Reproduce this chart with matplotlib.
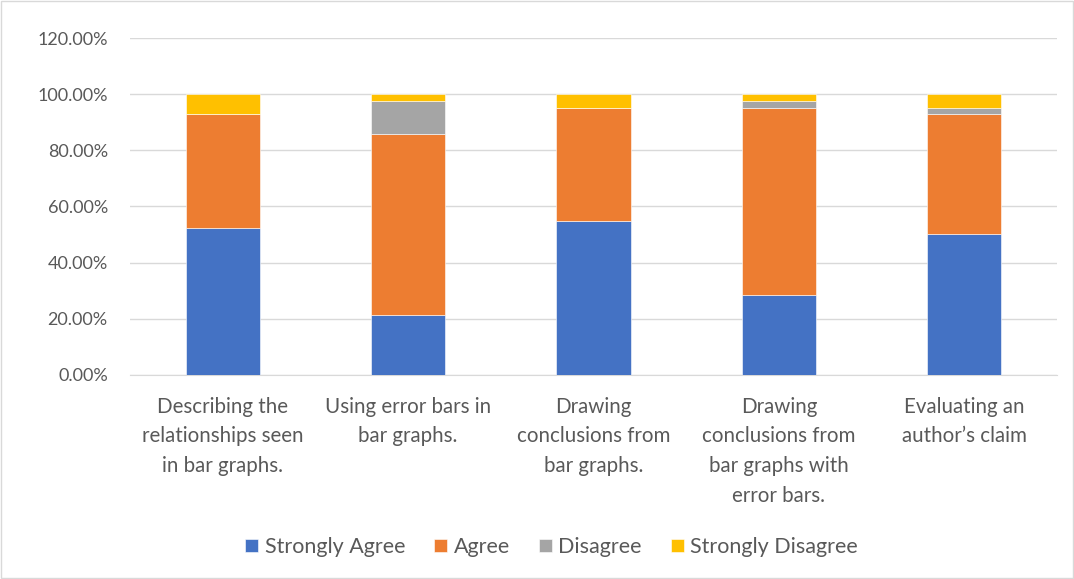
import matplotlib.pyplot as plt
from matplotlib.patches import Rectangle

plt.rcParams['font.family'] = ['Lato', 'DejaVu Sans']

# ---- Survey responses (share of respondents) ----
categories = [
    "Describing the\nrelationships seen\nin bar graphs.",
    "Using error bars in\nbar graphs.",
    "Drawing\nconclusions from\nbar graphs.",
    "Drawing\nconclusions from\nbar graphs with\nerror bars.",
    "Evaluating an\nauthor\u2019s claim",
]
strongly_agree    = [52.38, 21.43, 54.76, 28.57, 50.00]
agree             = [40.48, 64.29, 40.48, 66.67, 42.86]
disagree          = [0.00, 11.90, 0.00, 2.38, 2.38]
strongly_disagree = [7.14, 2.38, 4.76, 2.38, 4.76]

series = [
    ("Strongly Agree", strongly_agree, "#4472C4"),
    ("Agree", agree, "#ED7D31"),
    ("Disagree", disagree, "#A5A5A5"),
    ("Strongly Disagree", strongly_disagree, "#FFC000"),
]

text_color = "#595959"
grid_color = "#D9D9D9"

fig = plt.figure(figsize=(10.74, 5.79), dpi=100)
ax = fig.add_axes([130 / 1074, 1 - 374.6 / 579, 927 / 1074, 336.3 / 579])

x = list(range(len(categories)))
bottom = [0.0] * len(categories)
for name, values, color in series:
    ax.bar(x, values, width=0.4, bottom=bottom, color=color, label=name,
           edgecolor="white", linewidth=0.4, zorder=3)
    bottom = [b + v for b, v in zip(bottom, values)]

ax.set_xlim(-0.5, len(categories) - 0.5)
ax.set_ylim(0, 120)
yticks = list(range(0, 121, 20))
ax.set_yticks(yticks)
ax.set_yticklabels([f"{t:.2f}%" for t in yticks])
ax.set_xticks(x)
ax.set_xticklabels(categories, va="top", linespacing=1.6, fontsize=14.8)

ax.grid(axis="y", color=grid_color, linewidth=1, zorder=0)
for side in ("top", "right", "left"):
    ax.spines[side].set_visible(False)
ax.spines["bottom"].set_color(grid_color)
ax.tick_params(axis="both", length=0, colors=text_color)
ax.tick_params(axis="y", pad=16, labelsize=13)
ax.tick_params(axis="x", pad=16)

handles, labels = ax.get_legend_handles_labels()
fig.legend(handles, labels, loc="center", bbox_to_anchor=(551.5 / 1074, 1 - 547 / 579),
           ncol=4, frameon=False, fontsize=15.5, labelcolor=text_color,
           handlelength=0.6, handleheight=0.6, handletextpad=0.3,
           columnspacing=1.35)

# light frame around the whole chart
fig.patches.append(Rectangle((0.001, 0.001), 0.998, 0.997, transform=fig.transFigure,
                             fill=False, edgecolor=grid_color, linewidth=1))

fig.savefig("out.png", dpi=100)
